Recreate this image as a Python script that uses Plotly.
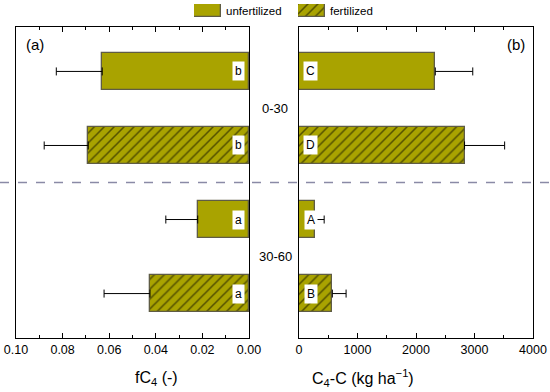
import plotly.graph_objects as go

# ---- data ----
treatments = ["unfertilized", "fertilized"]
depths = ["0-30", "30-60"]
# bar order top->bottom: 0-30 unfert, 0-30 fert, 30-60 unfert, 30-60 fert
fc4_vals = [0.063, 0.069, 0.022, 0.0425]
fc4_err = [0.0197, 0.0189, 0.0137, 0.0197]
fc4_letters = ["b", "b", "a", "a"]
c4c_vals = [2330, 2830, 280, 570]
c4c_err = [640, 685, 150, 235]
c4c_letters = ["C", "D", "A", "B"]
positions = [0, 1, 2, 3]
is_fert = [False, True, False, True]

OLIVE = "#a9a300"
EDGE = "#5f5c45"
FONT = "Liberation Sans, Arial, sans-serif"

W, H = 550, 392
def px_x(p): return p / W
def px_y(p): return 1 - p / H

fig = go.Figure()

def add_bars(vals, errs, xa, ya):
    for i, (v, e, f) in enumerate(zip(vals, errs, is_fert)):
        fig.add_trace(go.Bar(
            x=[v], y=[positions[i]], orientation="h", width=0.5,
            marker=dict(color=OLIVE, line=dict(color=EDGE, width=1.3),
                        pattern=dict(shape="/" if f else "", fgcolor="black",
                                     bgcolor=OLIVE, size=7, solidity=0.22)),
            error_x=dict(type="data", symmetric=False, array=[e], arrayminus=[0],
                         color="black", thickness=1, width=4),
            xaxis=xa, yaxis=ya, showlegend=False, hoverinfo="skip"))

add_bars(fc4_vals, fc4_err, "x", "y")
add_bars(c4c_vals, c4c_err, "x2", "y2")

# legend swatches on small hidden axes
for k, (name, f) in enumerate(zip(treatments, [False, True])):
    xa = "x%d" % (k + 3)
    ya = "y%d" % (k + 3)
    fig.add_trace(go.Bar(
        x=[1], y=[0], orientation="h", width=1,
        marker=dict(color=OLIVE, line=dict(color=EDGE, width=1.3),
                    pattern=dict(shape="/" if f else "", fgcolor="black",
                                 bgcolor=OLIVE, size=7, solidity=0.22)),
        xaxis=xa, yaxis=ya, showlegend=False, hoverinfo="skip"))

ydom = [px_y(338), px_y(27)]
tickfont = dict(family=FONT, size=12.5, color="black")
common_x = dict(showline=True, linecolor="black", linewidth=1, mirror="ticks",
                ticks="inside", ticklen=5, tickwidth=1, tickcolor="black",
                showgrid=False, zeroline=False, tickfont=tickfont, automargin=False)
common_y = dict(showline=True, linecolor="black", linewidth=1, mirror=True,
                showticklabels=False, ticks="", showgrid=False, zeroline=False,
                range=[3.6, -0.6], domain=ydom, automargin=False)
hidden = dict(visible=False, automargin=False, fixedrange=True)

fig.update_layout(
    width=W, height=H, margin=dict(l=0, r=0, t=0, b=0, autoexpand=False),
    plot_bgcolor="white", paper_bgcolor="white", bargap=0,
    font=dict(family=FONT, color="black"),
    xaxis=dict(common_x, domain=[px_x(16), px_x(249)], range=[0.1, 0],
               tickvals=[0.10, 0.08, 0.06, 0.04, 0.02, 0.0],
               ticktext=["0.10", "0.08", "0.06", "0.04", "0.02", "0.00"],
               minor=dict(tickvals=[0.09, 0.07, 0.05, 0.03, 0.01], ticks="inside",
                          ticklen=3, tickcolor="black"),
               anchor="y"),
    yaxis=dict(common_y, anchor="x"),
    xaxis2=dict(common_x, domain=[px_x(299), px_x(533)], range=[0, 4000],
                tickvals=[0, 1000, 2000, 3000, 4000],
                minor=dict(tickvals=[500, 1500, 2500, 3500], ticks="inside",
                           ticklen=3, tickcolor="black"),
                anchor="y2"),
    yaxis2=dict(common_y, anchor="x2"),
    xaxis3=dict(hidden, domain=[px_x(194), px_x(221)], range=[0, 1], anchor="y3"),
    yaxis3=dict(hidden, domain=[px_y(17), px_y(4)], range=[-0.5, 0.5], anchor="x3"),
    xaxis4=dict(hidden, domain=[px_x(298), px_x(325)], range=[0, 1], anchor="y4"),
    yaxis4=dict(hidden, domain=[px_y(17), px_y(4)], range=[-0.5, 0.5], anchor="x4"),
)

# letters inside bars
for i in range(4):
    fig.add_annotation(x=0.0043, y=positions[i], xref="x", yref="y", text=fc4_letters[i],
                       showarrow=False, bgcolor="white", font=dict(family=FONT, size=12),
                       borderpad=2, yanchor="middle")
    fig.add_annotation(x=205, y=positions[i], xref="x2", yref="y2", text=c4c_letters[i],
                       showarrow=False, bgcolor="white", font=dict(family=FONT, size=12),
                       borderpad=2, yanchor="middle")

# depth labels
for d, yv in zip(depths, [0.5, 2.5]):
    fig.add_annotation(x=0.5, y=yv, xref="paper", yref="y", text=d, showarrow=False,
                       yanchor="middle", font=dict(family=FONT, size=13))

# axis titles
fig.add_annotation(x=px_x(133), y=px_y(378), xref="paper", yref="paper",
                   text="fC<sub>4</sub> (-)", showarrow=False, yanchor="middle",
                   font=dict(family=FONT, size=16))
fig.add_annotation(x=px_x(416), y=px_y(378), xref="paper", yref="paper",
                   text="C<sub>4</sub>-C (kg ha<sup>\u22121</sup>)", showarrow=False,
                   yanchor="middle", font=dict(family=FONT, size=16))

# panel labels
fig.add_annotation(x=px_x(24), y=px_y(45), xref="paper", yref="paper", text="(a)",
                   xanchor="left", yanchor="middle", showarrow=False,
                   font=dict(family=FONT, size=15))
fig.add_annotation(x=px_x(527), y=px_y(45), xref="paper", yref="paper", text="(b)",
                   xanchor="right", yanchor="middle", showarrow=False,
                   font=dict(family=FONT, size=15))

# legend texts
fig.add_annotation(x=px_x(224), y=px_y(10.5), xref="paper", yref="paper", text=treatments[0],
                   xanchor="left", yanchor="middle", showarrow=False,
                   font=dict(family=FONT, size=11.5))
fig.add_annotation(x=px_x(328), y=px_y(10.5), xref="paper", yref="paper", text=treatments[1],
                   xanchor="left", yanchor="middle", showarrow=False,
                   font=dict(family=FONT, size=11.5))

# dashed separator between depths
fig.add_shape(type="line", xref="paper", yref="y", x0=0, x1=1, y0=1.5, y1=1.5,
              line=dict(color="#8a8aa6", width=1.3, dash="dash"))

fig.write_html("out.html", config={"displayModeBar": False},
               post_script="document.body.style.margin='0';document.body.style.overflow='hidden';")
